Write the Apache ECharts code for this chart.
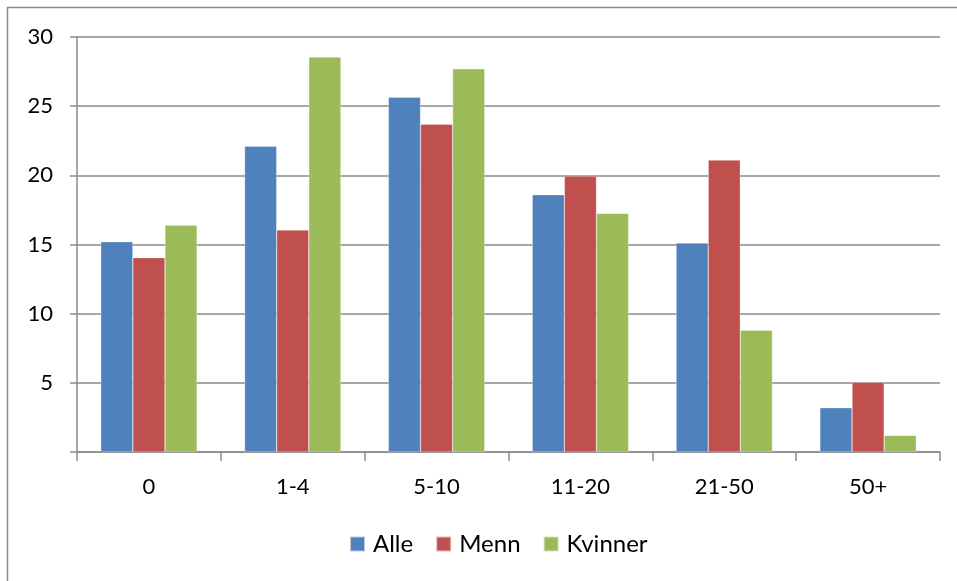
<!DOCTYPE html>
<html>
<head>
<meta charset="utf-8">
<script src="https://cdn.jsdelivr.net/npm/echarts@6/dist/echarts.min.js"></script>
<style>html,body{margin:0;padding:0;background:#fff}#c{width:957px;height:581px}</style>
</head>
<body>
<div id="c"></div>
<script>
const categories = ['0', '1-4', '5-10', '11-20', '21-50', '50+'];
const alle = [15.2, 22.1, 25.65, 18.6, 15.1, 3.2];
const menn = [14.05, 16.05, 23.7, 19.95, 21.1, 5.05];
const kvinner = [16.4, 28.55, 27.7, 17.25, 8.8, 1.2];
const yTicks = [0, 5, 10, 15, 20, 25, 30];

const font = 'Lato, "Open Sans", sans-serif';
const chart = echarts.init(document.getElementById('c'));
const mk = (name, data, color) => ({
  name, type: 'bar', data, barGap: '0%', barCategoryGap: '33%',
  itemStyle: { color, borderColor: 'rgba(255,255,255,0.6)', borderWidth: 0.5 }
});
chart.setOption({
  animation: false,
  textStyle: { fontFamily: font },
  graphic: [{ type: 'rect', shape: { x: 7.5, y: 7.5, width: 1200, height: 1200 },
    style: { fill: 'none', stroke: '#8a8a8a', lineWidth: 1.5 }, silent: true }],
  grid: { left: 77, right: 17, top: 37, bottom: 129 },
  legend: {
    top: 527, left: 344, itemWidth: 15, itemHeight: 15, itemGap: 22,
    icon: 'rect', textStyle: { fontSize: 24, color: '#000', fontFamily: font, padding: [0, 0, 0, 3] },
    data: ['Alle', 'Menn', 'Kvinner']
  },
  xAxis: {
    type: 'category', data: categories,
    axisLine: { lineStyle: { color: '#8a8a8a', width: 1.5 } },
    axisTick: { show: true, length: 9, lineStyle: { color: '#8a8a8a', width: 1.5 } },
    axisLabel: { fontSize: 22, color: '#000', margin: 24, fontFamily: font }
  },
  yAxis: {
    type: 'value', min: 0, max: 30, interval: 5,
    axisLine: { show: true, lineStyle: { color: '#8a8a8a', width: 1.5 } },
    axisTick: { show: true, length: 7, lineStyle: { color: '#8a8a8a', width: 1.5 } },
    splitLine: { lineStyle: { color: '#8a8a8a', width: 1.5 } },
    axisLabel: { fontSize: 22, color: '#000', margin: 24, fontFamily: font,
      formatter: v => yTicks.includes(v) && v !== 0 ? String(v) : '' }
  },
  series: [mk('Alle', alle, '#4f81bd'), mk('Menn', menn, '#c0504d'), mk('Kvinner', kvinner, '#9bbb59')]
});
</script>
</body>
</html>
